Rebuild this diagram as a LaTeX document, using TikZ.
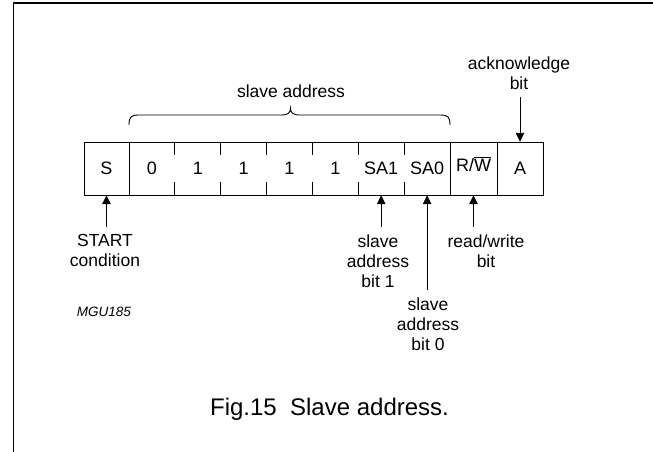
\documentclass[tikz,border=0pt]{standalone}
\usepackage{fontspec}
\setmainfont{Liberation Sans}
\usetikzlibrary{arrows.meta}
\begin{document}
\begin{tikzpicture}[x=1pt,y=-1pt,
  lbl/.style={font=\fontsize{17.5}{20.3}\selectfont, inner sep=0pt, align=center},
  celltxt/.style={font=\fontsize{18}{20}\selectfont, inner sep=0pt, minimum height=53pt, minimum width=44pt, text height=12.9pt, text depth=0pt},
  arr/.style={line width=0.9pt, -{Triangle[length=9pt,width=8.5pt]}},
  boxline/.style={line width=0.9pt},
  frameline/.style={line width=1.6pt},
]
\useasboundingbox (0,0) rectangle (653,452);
\draw[frameline] (13.5,452) -- (13.5,3) -- (653,3);

% register outline
\draw[boxline] (84,142) rectangle (543,195);
\foreach \x in {129,450,497} \draw[boxline] (\x,142) -- (\x,195);
\foreach \i in {1,...,6} {
  \pgfmathsetmacro\xx{129+45.857*\i}
  \draw[boxline] (\xx,142) -- (\xx,155) (\xx,182) -- (\xx,195);
}

% cells
\node[celltxt] (cS)   at (106.5,168.5) {S};
\node[celltxt] (c0)   at (151.9,168.5) {0};
\node[celltxt] (c1)   at (197.8,168.5) {1};
\node[celltxt] (c2)   at (243.6,168.5) {1};
\node[celltxt] (c3)   at (289.5,168.5) {1};
\node[celltxt] (c4)   at (335.4,168.5) {1};
\node[celltxt] (cSA1) at (381.2,168.5) {SA1};
\node[celltxt] (cSA0) at (427.1,168.5) {SA0};
\node[celltxt] (cRW)  at (473.5,168.5) {\raisebox{3.5pt}{R/$\overline{\hbox{W}}$}};
\node[celltxt] (cA)   at (520,168.5) {A};

% brace
\draw[boxline] (129,125) .. controls (129,117) and (131,115) .. (139,115)
  -- (281,115) .. controls (288,115) and (290.5,113) .. (290.5,108)
  .. controls (290.5,113) and (293,115) .. (300,115)
  -- (440,115) .. controls (448,115) and (450,117) .. (450,125);

% labels
\node[lbl, anchor=base]  (sa)    at (291,97.7) {slave address};
\node[lbl, anchor=north] (ack)   at (519,56.8) {acknowledge\\bit};
\node[lbl, anchor=north] (start) at (105,234.2) {START\\condition};
\node[lbl, anchor=north] (sa1l)  at (378,234.2) {slave\\address\\bit 1};
\node[lbl, anchor=north] (sa0l)  at (428,297.5) {slave\\address\\bit 0};
\node[lbl, anchor=north] (rwl)   at (486,234.2) {read/write\\bit};
\node[font=\fontsize{13.5}{16}\selectfont\itshape, anchor=base, inner sep=0pt] (mgu) at (104,316.7) {MGU185};
\node[font=\fontsize{24}{28}\selectfont, anchor=base, inner sep=0pt] (cap) at (329.5,415) {Fig.15~~Slave address.};

% arrows
\coordinate (tS)   at (106.5,227);
\coordinate (tSA1) at (381.2,227);
\coordinate (tSA0) at (427.1,290);
\coordinate (tRW)  at (473.5,227);
\coordinate (tA)   at (520,97);
\draw[arr] (tS) -- (cS.south);
\draw[arr] (tSA1) -- (cSA1.south);
\draw[arr] (tSA0) -- (cSA0.south);
\draw[arr] (tRW) -- (cRW.south);
\draw[arr] (tA) -- (cA.north);
\end{tikzpicture}
\end{document}
